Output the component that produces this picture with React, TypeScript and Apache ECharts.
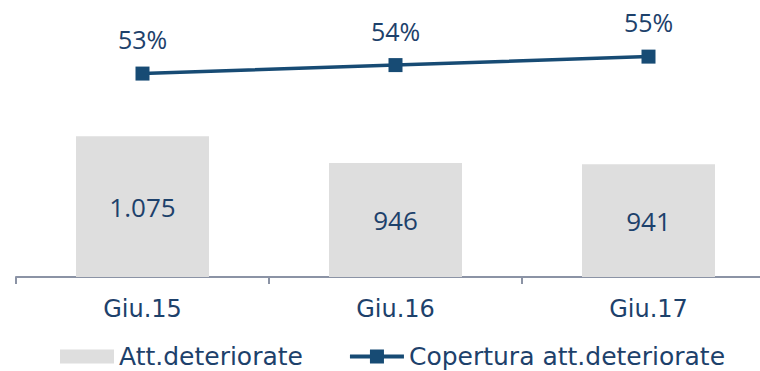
import React, { useEffect, useRef } from "react";
import * as echarts from "echarts";

const categories = ["Giu.15", "Giu.16", "Giu.17"];
const deteriorate = [1075, 946, 941];
const copertura = [53, 54, 55];
const seriesNames = ["Att.deteriorate", "Copertura att.deteriorate"];

const FONT = "Open Sans";
const WFONT = "DejaVu Sans";
const TEXT = "#1d416b";
const LINE = "#174b74";
const AXIS = "#8b93a5";

const lineIcon = "path://M0,5 H54 V9 H0 Z M20,0 H34 V14 H20 Z";

export default function App() {
  const ref = useRef<HTMLDivElement>(null);
  useEffect(() => {
    const chart = echarts.init(ref.current!, null, { renderer: "svg" });
    chart.setOption({
      animation: false,
      textStyle: { fontFamily: FONT },
      grid: { left: 16, top: 10, right: 0, height: 267 },
      legend: {
        left: 55,
        top: 339,
        itemGap: 47,
        itemWidth: 54,
        itemHeight: 14,
        textStyle: { fontFamily: WFONT, fontSize: 25, color: TEXT },
        data: [
          { name: seriesNames[0], icon: "rect" },
          { name: seriesNames[1], icon: lineIcon },
        ],
      },
      xAxis: {
        type: "category",
        data: categories,
        axisLine: { lineStyle: { color: AXIS, width: 2 } },
        axisTick: { show: true, length: 7, lineStyle: { color: AXIS, width: 2 } },
        axisLabel: { fontFamily: WFONT, fontSize: 24, color: TEXT, margin: 20 },
      },
      yAxis: [
        { type: "value", min: 400, max: 1680, show: false, splitLine: { show: false } },
        { type: "value", min: 29, max: 60.5, show: false, splitLine: { show: false } },
      ],
      series: [
        {
          name: seriesNames[0],
          type: "bar",
          data: deteriorate,
          barWidth: 133,
          itemStyle: { color: "#dedede" },
          label: {
            show: true,
            position: "inside",
            fontFamily: FONT,
            fontSize: 26,
            color: TEXT,
            formatter: (p: any) => p.value.toLocaleString("it-IT"),
          },
        },
        {
          name: seriesNames[1],
          type: "line",
          yAxisIndex: 1,
          data: copertura,
          symbol: "rect",
          symbolSize: 14,
          itemStyle: { color: LINE },
          lineStyle: { color: LINE, width: 3.5 },
          label: {
            show: true,
            position: "top",
            distance: 15,
            fontFamily: FONT,
            fontSize: 25,
            color: TEXT,
            formatter: (p: any) => p.value + "%",
          },
        },
      ],
    });
    return () => chart.dispose();
  }, []);
  return (
    <div style={{ width: 760, height: 371, position: "absolute", left: 0, top: 0, overflow: "hidden" }}>
      <div ref={ref} style={{ width: 775, height: 371 }} />
    </div>
  );
}
